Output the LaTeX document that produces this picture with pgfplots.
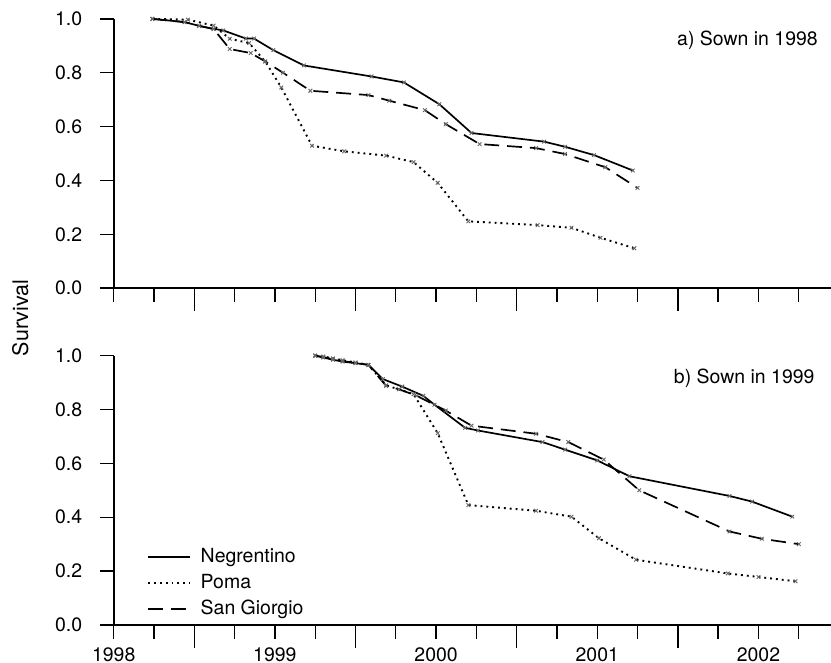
\documentclass[border=0pt]{standalone}
\usepackage{fontspec}
\setmainfont{TeX Gyre Heros}
\usepackage{pgfplots}
\pgfplotsset{compat=1.18}
\begin{document}
\fontsize{9.8bp}{11.8bp}\selectfont
\pgfplotsset{
  base/.style={
    width=361bp, scale only axis,
    xmin=1998, xmax=2002.45, ymin=0, ymax=1,
    axis x line=bottom, axis y line=left,
    axis line style={-, line width=0.85bp},
    every tick/.style={black, line width=0.7bp},
    tick align=outside,
    major tick length=7bp, minor tick length=7bp,
    ytick={0,0.2,...,1.0},
    yticklabel style={/pgf/number format/fixed, /pgf/number format/fixed zerofill, /pgf/number format/precision=1, xshift=-5.5bp},
    /pgf/number format/assume math mode=true,
    xtick={1998,1999,2000,2001,2002},
    xticklabel style={/pgf/number format/1000 sep={}, yshift=-1bp},
    minor xtick={1998.25,1998.75,1999.25,1999.75,2000.25,2000.75,2001.25,2001.75,2002.25},
    extra x ticks={1998.5,1999.5,2000.5,2001.5},
    extra x tick labels={},
    extra x tick style={major tick length=11.5bp},
    clip=false,
  },
  neg/.style={black, line width=0.85bp, mark=x, mark size=1.3bp, mark options={solid, gray!80!black, line width=0.45bp}},
  poma/.style={black, line width=0.95bp, dash pattern=on 0.95bp off 2bp, mark=x, mark size=1.3bp, mark options={solid, gray!80!black, line width=0.45bp}},
  sg/.style={black, line width=0.85bp, dash pattern=on 7.5bp off 4bp, mark=x, mark size=1.3bp, mark options={solid, gray!80!black, line width=0.45bp}},
}
\begin{tikzpicture}
% bottom panel
\begin{axis}[base, name=bot, at={(0,0)}, anchor=south west, height=135.5bp,
  legend style={draw=none, fill=none, at={(axis cs:1998.205,0.292)}, anchor=north west,
    row sep=2.3bp, inner sep=0pt, nodes={inner sep=1bp, font=\fontsize{9.8bp}{11.8bp}\selectfont}},
  legend cell align=left,
  legend image code/.code={\draw[#1, mark=none] (0bp,0bp) -- (21bp,0bp); \path (25bp,0bp);},
]
\addplot[neg] coordinates {
(1999.25,1.000) (1999.30,0.993) (1999.36,0.985) (1999.42,0.978) (1999.50,0.972) (1999.58,0.966)
(1999.67,0.913) (1999.79,0.885) (1999.92,0.851) (1999.99,0.818) (2000.18,0.732) (2000.26,0.722)
(2000.66,0.679) (2000.80,0.651) (2001.00,0.611) (2001.20,0.552) (2001.82,0.479) (2001.96,0.458)
(2002.21,0.402)};
\addlegendentry{Negrentino}
\addplot[poma] coordinates {
(1999.25,1.000) (1999.30,0.997) (1999.36,0.990) (1999.42,0.983) (1999.50,0.975) (1999.58,0.966)
(1999.69,0.890) (1999.86,0.857) (2000.01,0.712) (2000.20,0.445) (2000.62,0.424) (2000.84,0.402)
(2001.01,0.322) (2001.24,0.242) (2001.81,0.191) (2002.00,0.178) (2002.23,0.162)};
\addlegendentry{Poma}
\addplot[sg] coordinates {
(1999.25,1.000) (1999.30,0.995) (1999.36,0.987) (1999.42,0.980) (1999.50,0.973) (1999.58,0.966)
(1999.69,0.888) (1999.77,0.875) (1999.88,0.851) (2000.06,0.796) (2000.22,0.740) (2000.62,0.710)
(2000.82,0.679) (2001.04,0.614) (2001.26,0.500) (2001.82,0.347) (2002.02,0.320) (2002.25,0.300)};
\addlegendentry{San Giorgio}
\node[anchor=east, inner sep=0pt] at (axis cs:2002.35,0.916) {b) Sown in 1999};
\end{axis}
% top panel
\begin{axis}[base, name=top, at={(0,169.5bp)}, anchor=south west, height=135.5bp,
  xticklabels={}]
\addplot[neg] coordinates {
(1998.24,1.000) (1998.44,0.988) (1998.53,0.974) (1998.62,0.963) (1998.68,0.957) (1998.82,0.927)
(1998.87,0.927) (1998.99,0.884) (1999.18,0.827) (1999.60,0.786) (1999.80,0.764) (2000.02,0.683)
(2000.22,0.576) (2000.67,0.544) (2000.80,0.525) (2000.98,0.494) (2001.22,0.437)};
\addplot[poma] coordinates {
(1998.24,1.000) (1998.46,0.997) (1998.62,0.975) (1998.72,0.926) (1998.84,0.910) (1998.94,0.842)
(1999.04,0.745) (1999.23,0.529) (1999.43,0.508) (1999.69,0.492) (1999.86,0.468) (2000.01,0.391)
(2000.20,0.248) (2000.63,0.234) (2000.84,0.224) (2001.02,0.187) (2001.23,0.148)};
\addplot[sg] coordinates {
(1998.24,1.000) (1998.44,0.988) (1998.53,0.974) (1998.62,0.962) (1998.72,0.888) (1998.85,0.873)
(1998.94,0.842) (1999.05,0.800) (1999.22,0.733) (1999.58,0.717) (1999.71,0.696) (1999.93,0.661)
(2000.06,0.609) (2000.27,0.535) (2000.62,0.520) (2000.80,0.498) (2001.05,0.449) (2001.25,0.372)};
\node[anchor=east, inner sep=0pt] at (axis cs:2002.37,0.922) {a) Sown in 1998};
\end{axis}
\node[rotate=90, inner sep=0pt, font=\fontsize{10.8bp}{13bp}\selectfont] at (-47bp,154.5bp) {Survival};
\pgfresetboundingbox
\path[use as bounding box] (-54.5bp,-19bp) rectangle (361bp,314.5bp);
\end{tikzpicture}
\end{document}
